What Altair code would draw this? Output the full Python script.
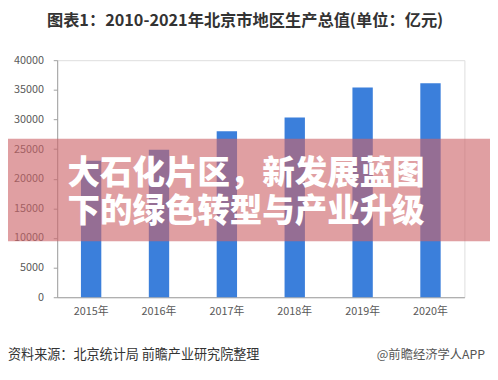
import altair as alt
import pandas as pd

years = ["2015年", "2016年", "2017年", "2018年", "2019年", "2020年"]
gdp = [23015, 24899, 28015, 30320, 35371, 36103]
y_ticks = [0, 5000, 10000, 15000, 20000, 25000, 30000, 35000, 40000]

title_text = "图表1：2010-2021年北京市地区生产总值(单位：亿元)"
source_text = "资料来源：北京统计局 前瞻产业研究院整理"
brand_text = "@前瞻经济学人APP"
banner_lines = ["大石化片区，新发展蓝图", "下的绿色转型与产业升级"]

df = pd.DataFrame({"year": years, "gdp": gdp})
FONT = "Noto Sans CJK SC"

bars = alt.Chart(df).mark_bar(color="#3b7fdb").encode(
    x=alt.X("year:N", sort=years,
            scale=alt.Scale(paddingInner=0.7, paddingOuter=0.35),
            axis=alt.Axis(title=None, labelAngle=0, ticks=False, domainColor="#a0a0a0",
                          labelColor="#595959", labelFontSize=11, labelFont=FONT,
                          labelPadding=9)),
    y=alt.Y("gdp:Q", scale=alt.Scale(domain=[0, 40000], nice=False),
            axis=alt.Axis(title=None, values=y_ticks, format="d", grid=False,
                          domainColor="#a0a0a0", tickColor="#a0a0a0", tickSize=4,
                          labelColor="#595959", labelFontSize=11, labelFont=FONT,
                          labelPadding=10)),
)

def txt(s, x, y, size, color, weight="normal", align="left"):
    return alt.Chart(pd.DataFrame({"t": [s]})).mark_text(
        font=FONT, fontSize=size, color=color, fontWeight=weight, align=align,
        baseline="middle").encode(text="t:N", x=alt.value(x), y=alt.value(y))

title = txt(title_text, 191, -40, 16.5, "#333333", "bold", "center")
source = txt(source_text, -50, 300, 13.3, "#333333")
brand = txt(brand_text, 435, 300, 12.5, "#555555", align="right")

banner = alt.Chart(pd.DataFrame({"a": [1]})).mark_rect(
    color="#cd6469", opacity=0.62).encode(
    x=alt.value(-50), x2=alt.value(440), y=alt.value(80), y2=alt.value(184))

headline = alt.Chart(pd.DataFrame({"a": [1]})).mark_text(
    text=banner_lines, font=FONT, fontSize=33, fontWeight=900, color="white",
    align="center", baseline="middle", lineHeight=38).encode(
    x=alt.value(192), y=alt.value(116))

chart = alt.layer(bars, title, source, brand, banner, headline).properties(
    width=414, height=241,
    autosize=alt.AutoSizeParams(type="none"),
    padding={"left": 50, "top": 50, "right": 26, "bottom": 75},
).configure_view(stroke=None).configure(background="white")

chart.save("out.html", embed_options={"renderer": "svg", "actions": False})
